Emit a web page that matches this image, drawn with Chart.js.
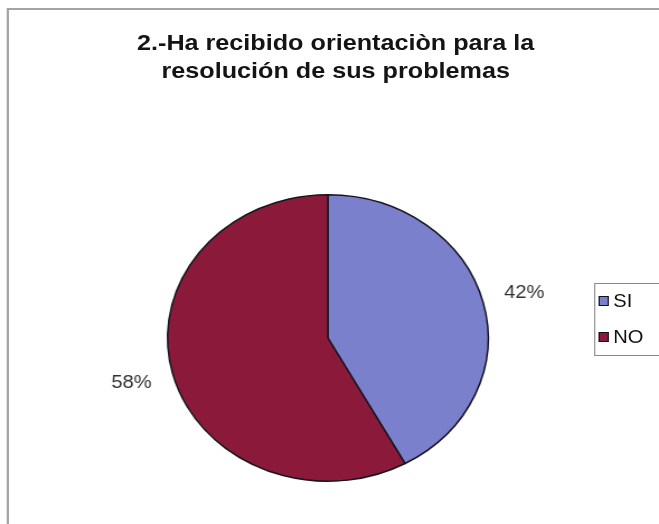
<!DOCTYPE html>
<html>
<head>
<meta charset="utf-8">
<script src="https://cdn.jsdelivr.net/npm/chart.js@4/dist/chart.umd.min.js"></script>
<style>
    body { margin: 0; background: #fff; overflow: hidden; }
    .stage {
        position: absolute; left: 0; top: 0;
        width: 589px; height: 524px;
        transform: scaleX(1.119); transform-origin: 0 0;
        font-family: "Liberation Sans", Arial, sans-serif;
    }
    .frame {
        position: absolute; left: 6px; top: 8px;
        width: 700px; height: 700px;
        border: 2px solid #a3a3a3; box-sizing: border-box;
    }
    .title {
        position: absolute; left: 0; width: 600px; top: 29px;
        text-align: center; font-weight: bold; font-size: 22.5px;
        line-height: 28px; color: #141414;
    }
    canvas { position: absolute; left: 0; top: 0; }
    .legend {
        position: absolute; left: 531px; top: 283px;
        width: 120px; height: 73px;
        border: 1px solid #888; box-sizing: border-box;
        font-size: 18px; color: #111;
    }
    .legend-item { position: absolute; left: 3px; height: 22px; line-height: 22px; }
    .legend-item span.box {
        display: inline-block; width: 7px; height: 8px;
        border: 1px solid #111; vertical-align: middle; margin-right: 4px;
        position: relative; top: -1px;
    }
</style>
</head>
<body>
<div class="stage">
    <div class="frame"></div>
    <div class="title">2.-Ha recibido orientaciòn para la<br>resolución de sus problemas</div>
    <canvas id="pie" width="589" height="524"></canvas>
    <div class="legend" id="legend"></div>
</div>
<script>
const categories = ['SI', 'NO'];
const percentages = [42, 58];
const sliceColors = ['#7b80cc', '#8b1a3a'];

// legend entries
const legend = document.getElementById('legend');
categories.forEach((name, i) => {
    const item = document.createElement('div');
    item.className = 'legend-item';
    item.style.top = (6 + i * 36) + 'px';
    item.innerHTML = `<span class="box" style="background:${sliceColors[i]}"></span>${name}`;
    legend.appendChild(item);
});

// percent labels outside each slice
const outsideLabels = {
    id: 'outsideLabels',
    afterDatasetsDraw(chart) {
        const ctx = chart.ctx;
        const meta = chart.getDatasetMeta(0);
        ctx.save();
        ctx.font = '18px "Liberation Sans", Arial, sans-serif';
        ctx.fillStyle = '#333';
        ctx.textAlign = 'center';
        ctx.textBaseline = 'middle';
        meta.data.forEach((arc, i) => {
            const p = arc.getProps(['x', 'y', 'startAngle', 'endAngle', 'outerRadius'], true);
            const mid = (p.startAngle + p.endAngle) / 2;
            const r = p.outerRadius + 38;
            ctx.fillText(percentages[i] + '%', p.x + Math.cos(mid) * r, p.y + Math.sin(mid) * r);
        });
        ctx.restore();
    }
};

new Chart(document.getElementById('pie'), {
    type: 'pie',
    data: {
        labels: categories,
        datasets: [{
            data: percentages,
            backgroundColor: sliceColors,
            borderColor: '#15151f',
            borderWidth: 1.5,
            hoverOffset: 0
        }]
    },
    options: {
        responsive: false,
        animation: false,
        events: [],
        layout: { padding: { left: 149, right: 152, top: 194, bottom: 42 } },
        plugins: {
            legend: { display: false },
            tooltip: { enabled: false },
            title: { display: false }
        }
    },
    plugins: [outsideLabels]
});
</script>
</body>
</html>
